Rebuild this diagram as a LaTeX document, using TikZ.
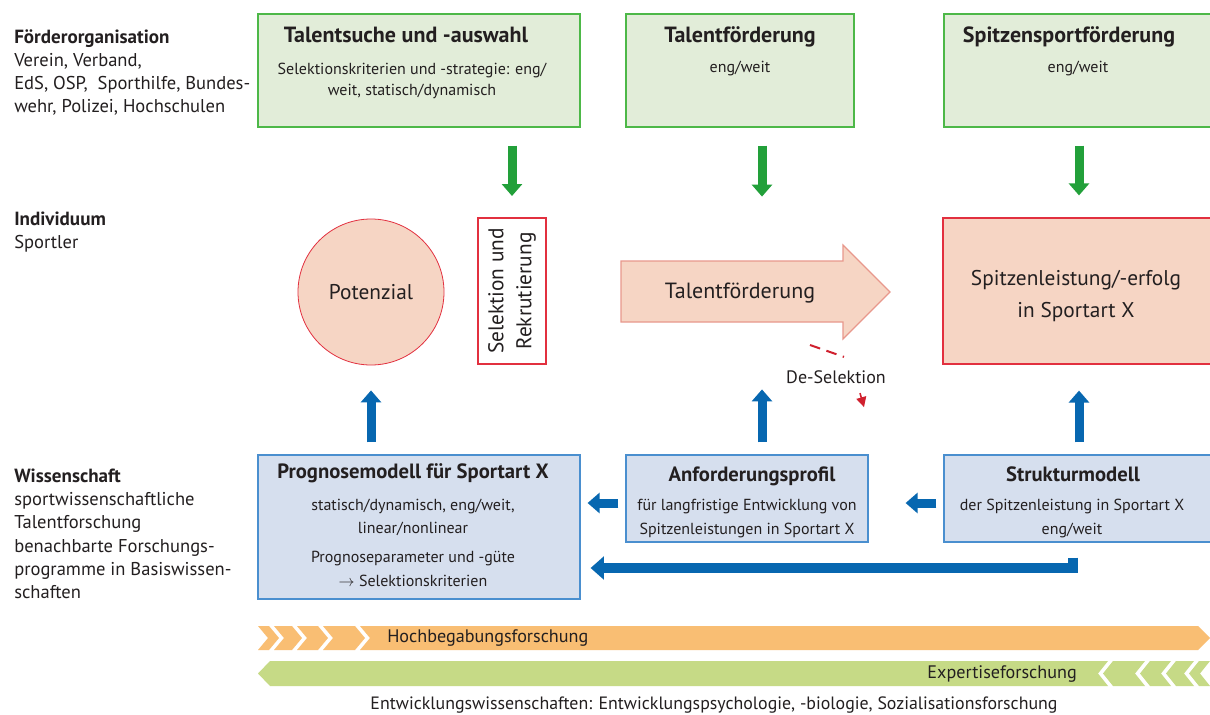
\documentclass[tikz,border=0pt]{standalone}
\usepackage{fontspec}
\setmainfont{PT Sans}
\usetikzlibrary{arrows.meta,calc}
\definecolor{gfill}{HTML}{E2EDD9}
\definecolor{gline}{HTML}{4DB848}
\definecolor{garr}{HTML}{22A03A}
\definecolor{sfill}{HTML}{F6D5C4}
\definecolor{rline}{HTML}{E2303F}
\definecolor{pline}{HTML}{E8988C}
\definecolor{bfill}{HTML}{D6DFEE}
\definecolor{bline}{HTML}{4A8FCF}
\definecolor{barr}{HTML}{0767B0}
\definecolor{orng}{HTML}{F9BE73}
\definecolor{lgrn}{HTML}{C6DA86}
\definecolor{txt}{HTML}{231F20}
\definecolor{dsred}{HTML}{D0202E}
\begin{document}
\begin{tikzpicture}[x=0.75pt,y=-0.75pt,
  every node/.style={text=txt},
  gbox/.style={draw=gline, fill=gfill, line width=0.9pt, inner sep=0pt},
  bbox/.style={draw=bline, fill=bfill, line width=0.9pt, inner sep=0pt},
  lbl/.style={anchor=base west, inner sep=0pt, font=\fontsize{13.9pt}{17pt}\selectfont},
  lblb/.style={anchor=base west, inner sep=0pt, font=\bfseries\fontsize{14.3pt}{17pt}\selectfont},
  ttl/.style={anchor=base, inner sep=0pt, font=\bfseries\fontsize{16.5pt}{19pt}\selectfont},
  ttlb/.style={anchor=base, inner sep=0pt, font=\bfseries\fontsize{15.5pt}{18pt}\selectfont},
  subt/.style={anchor=base, inner sep=0pt, font=\fontsize{12pt}{14pt}\selectfont},
  bartxt/.style={inner sep=0pt, font=\fontsize{13.6pt}{16pt}\selectfont},
  garrow/.style={draw=garr, line width=6.75pt, -{Triangle[width=15pt,length=9pt]}},
  barrow/.style={draw=barr, line width=6.75pt, -{Triangle[width=15pt,length=9pt]}},
  dsline/.style={draw=dsred, line width=1.5pt, dash pattern=on 8pt off 5pt},
  dsarrow/.style={draw=dsred, line width=1.2pt, -{Triangle[width=7.5pt,length=7.5pt]}}
]
\useasboundingbox (0,0) rectangle (1210,714);
\fill[white] (0,0) rectangle (1210,714);

% ---------- left labels ----------
\node[lblb] (l1) at (14,43) {Förderorganisation};
\node[lbl] (l2) at (14,66) {Verein, Verband,};
\node[lbl] (l3) at (14,89) {EdS, OSP,\ \ Sporthilfe, Bundes-};
\node[lbl] (l4) at (14,112) {wehr, Polizei, Hochschulen};
\node[lblb] (l5) at (14,225) {Individuum};
\node[lbl] (l6) at (14,248) {Sportler};
\node[lblb] (l7) at (14,482) {Wissenschaft};
\node[lbl] (l8) at (14,505) {sportwissenschaftliche};
\node[lbl] (l9) at (14,528) {Talentforschung};
\node[lbl] (l10) at (14,552) {benachbarte Forschungs-};
\node[lbl] (l11) at (14,575) {programme in Basiswissen-};
\node[lbl] (l12) at (14,598) {schaften};

% ---------- top green boxes ----------
\node[gbox, minimum width=241.5pt, minimum height=84.75pt] (g1) at (419,70.5) {};
\node[gbox, minimum width=171pt, minimum height=84.75pt] (g2) at (740,70.5) {};
\node[gbox, minimum width=203.25pt, minimum height=84.75pt] (g3) at (1079.5,70.5) {};
\node[ttl] (g1t) at (406,42) {Talentsuche und -auswahl};
\node[subt] (g1a) at (412,74) {Selektionskriterien und -strategie: eng/};
\node[subt] (g1b) at (412,95) {weit, statisch/dynamisch};
\node[ttl] (g2t) at (740,42) {Talentförderung};
\node[subt] (g2a) at (740,72) {eng/weit};
\node[ttl] (g3t) at (1069,42) {Spitzensportförderung};
\node[subt] (g3a) at (1078,72) {eng/weit};

% ---------- middle row ----------
\node[circle, draw=rline, fill=sfill, line width=0.6pt, minimum size=109.5pt, inner sep=0pt,
      font=\fontsize{16pt}{19pt}\selectfont] (pot) at (371,292) {Potenzial};
\node[draw=rline, fill=white, line width=0.9pt, rotate=90, minimum width=109.5pt, minimum height=51pt,
      inner sep=0pt, align=center, font=\fontsize{16pt}{21pt}\selectfont] (sel) at (512,291) {Selektion und\\Rekrutierung};
\draw[draw=pline, fill=sfill, line width=0.9pt] (621,261) -- (843,261) -- (843,245) -- (890,292) -- (843,339) -- (843,322) -- (621,322) -- cycle;
\node[inner sep=0pt, font=\fontsize{16.5pt}{19pt}\selectfont] (tf) at (740,293) {Talentförderung};
\node[draw=rline, fill=sfill, line width=0.9pt, minimum width=204pt, minimum height=109.5pt, inner sep=0pt] (sp) at (1079,291) {};
\node[inner sep=0pt, align=center, font=\fontsize{16pt}{23.5pt}\selectfont] (spt) at (1076,296) {Spitzenleistung/-erfolg\\in Sportart X};

\coordinate (c2) at (762,0);
\coordinate (dsA) at (810,345);
\node[inner sep=1pt, font=\fontsize{13.5pt}{16pt}\selectfont] (ds) at (836,377) {De-Selektion};
\draw[dsline] (dsA) -- ($(ds.north)+(8,-12)$);
\draw[dsarrow] ($(ds.south)+(24,8)$) -- ($(ds.south)+(28,22)$);

% green arrows
\draw[garrow] ($(g1.south -| sel.center)+(0,18)$) -- ($(sel.center)+(0,-95)$);
\draw[garrow] ($(g2.south -| c2)+(0,18)$) -- ($(g2.south -| c2)+(0,69)$);
\draw[garrow] ($(g3.south -| sp.center)+(0,18)$) -- ($(sp.north)+(0,-22)$);

% ---------- bottom blue boxes ----------
\node[bbox, minimum width=241.5pt, minimum height=108pt] (p) at (419,527) {};
\node[bbox, minimum width=181.5pt, minimum height=65.25pt] (a) at (747,498.5) {};
\node[bbox, minimum width=203.25pt, minimum height=65.25pt] (s) at (1079.5,498.5) {};
\node[ttlb] (pt) at (413,478) {Prognosemodell für Sportart X};
\node[subt] (p1) at (413,510) {statisch/dynamisch, eng/weit,};
\node[subt] (p2) at (413,533) {linear/nonlinear};
\node[subt] (p3) at (413,562) {Prognoseparameter und -güte};
\node[subt] (p4) at (413,586) {$\rightarrow$ Selektionskriterien};
\node[ttlb] (at) at (752,481) {Anforderungsprofil};
\node[subt] (a1) at (747,510) {für langfristige Entwicklung von};
\node[subt] (a2) at (747,534) {Spitzenleistungen in Sportart X};
\node[ttlb] (st) at (1073,481) {Strukturmodell};
\node[subt] (s1) at (1072,510) {der Spitzenleistung in Sportart X};
\node[subt] (s2) at (1072,534) {eng/weit};

% blue arrows
\draw[barrow] ($(p.north -| pot.center)+(0,-12)$) -- ($(pot.south)+(0,25)$);
\draw[barrow] ($(a.north -| c2)+(0,-12)$) -- ($(a.north -| c2)+(0,-65)$);
\draw[barrow] ($(s.north -| sp.center)+(0,-12)$) -- ($(sp.south)+(0,26)$);
\draw[barrow] ($(a.west)+(-7,4.5)$) -- ($(p.east |- a.west)+(7,4.5)$);
\draw[barrow] ($(s.west)+(-7,4.5)$) -- ($(a.east |- s.west)+(37,4.5)$);
\draw[draw=barr, line width=7.5pt, -{Triangle[width=17pt,length=10pt]}] ($(s.south)+(-6.5,15)$) |- ($(p.east)+(10,41)$);

% ---------- research bars ----------
\foreach \xa/\w in {258/11, 274/18, 297/21, 323/32}
  \fill[orng] (\xa,626) -- (\xa+\w,626) -- (\xa+\w+10,638) -- (\xa+\w,650) -- (\xa,650) -- (\xa+10,638) -- cycle;
\fill[orng] (360,626) -- (1198,626) -- (1210,638) -- (1198,650) -- (360,650) -- (370,638) -- cycle;
\node[bartxt, anchor=west] (hb) at (387,638) {Hochbegabungsforschung};

\fill[lgrn] (270,661) -- (1108,661) -- (1098,673.5) -- (1108,686) -- (270,686) -- (258,673.5) -- cycle;
\foreach \xr/\w in {1145/32, 1171/21, 1194/18, 1210/11}
  \fill[lgrn] (\xr-\w,661) -- (\xr,661) -- (\xr-10,673.5) -- (\xr,686) -- (\xr-\w,686) -- (\xr-\w-10,673.5) -- cycle;
\node[bartxt, anchor=east] (ef) at (1077,673.5) {Expertiseforschung};

\node[inner sep=0pt, anchor=base, font=\fontsize{13.4pt}{16pt}\selectfont] (ew) at (714,709) {Entwicklungswissenschaften: Entwicklungspsychologie, -biologie, Sozialisationsforschung};
\end{tikzpicture}
\end{document}
